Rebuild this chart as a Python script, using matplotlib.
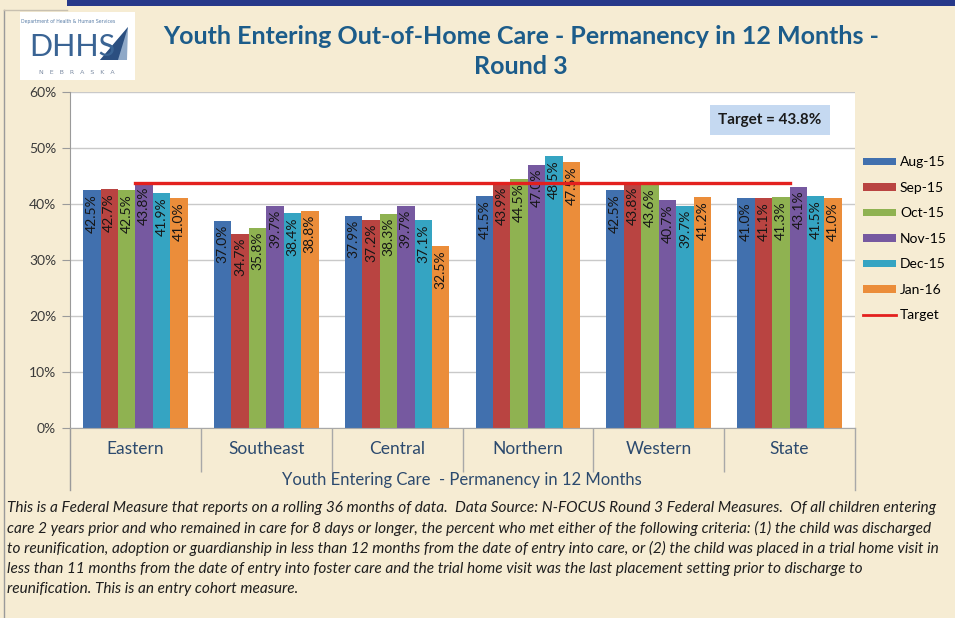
import matplotlib
matplotlib.use("Agg")
import matplotlib.pyplot as plt
from matplotlib.patches import Rectangle, Polygon, Patch
from matplotlib.lines import Line2D
import numpy as np

# data
regions = ["Eastern", "Southeast", "Central", "Northern", "Western", "State"]
months = ["Aug-15", "Sep-15", "Oct-15", "Nov-15", "Dec-15", "Jan-16"]
aug15 = [42.5, 37.0, 37.9, 41.5, 42.5, 41.0]
sep15 = [42.7, 34.7, 37.2, 43.9, 43.8, 41.1]
oct15 = [42.5, 35.8, 38.3, 44.5, 43.6, 41.3]
nov15 = [43.8, 39.7, 39.7, 47.0, 40.7, 43.1]
dec15 = [41.9, 38.4, 37.1, 48.5, 39.7, 41.5]
jan16 = [41.0, 38.8, 32.5, 47.5, 41.2, 41.0]
target = 43.8
yticks = [0, 10, 20, 30, 40, 50, 60]

series = [aug15, sep15, oct15, nov15, dec15, jan16]
colors = ["#4170AE", "#B94441", "#8FB251", "#7659A0", "#35A4C2", "#EB8D3A"]

footer = [
    "This is a Federal Measure that reports on a rolling 36 months of data.  Data Source: N-FOCUS Round 3 Federal Measures.  Of all children entering",
    "care 2 years prior and who remained in care for 8 days or longer, the percent who met either of the following criteria: (1) the child was discharged",
    "to reunification, adoption or guardianship in less than 12 months from the date of entry into care, or (2) the child was placed in a trial home visit in",
    "less than 11 months from the date of entry into foster care and the trial home visit was the last placement setting prior to discharge to",
    "reunification. This is an entry cohort measure.",
]

W, H = 955, 618
BG = "#F6ECD3"
TITLE_C = "#1C5C8A"
LABEL_C = "#2C4A6E"

fig = plt.figure(figsize=(W / 100, H / 100), dpi=100, facecolor=BG)

# overlay for slide decoration, pixel coordinates
deco = fig.add_axes([0, 0, 1, 1], zorder=-1)
deco.set_xlim(0, W)
deco.set_ylim(H, 0)
deco.axis("off")
deco.patch.set_alpha(0)

deco.add_patch(Rectangle((67, 0), W - 67, 6, color="#27398A", lw=0))
deco.plot([4, 4], [10, H], color="#9A9A9A", lw=1)
deco.plot([4, 67], [10, 10], color="#C8C0B0", lw=1)

# DHHS logo
deco.add_patch(Rectangle((20, 12), 115, 68, facecolor="white", edgecolor="none"))
deco.text(68, 21, "Department of Health & Human Services", fontsize=3.3,
          color="#5B7FA8", ha="center", va="center", family="DejaVu Sans")
deco.text(29, 47, "DHHS", fontsize=22, color="#3A6494", ha="left", va="center",
          family="Lato")
deco.add_patch(Polygon([(100, 60), (128, 27), (127, 60)], closed=True,
                       facecolor="#8FA9C8", edgecolor="none"))
deco.add_patch(Polygon([(100, 60), (128, 27), (118, 60)], closed=True,
                       facecolor="#2B4F80", edgecolor="none"))
deco.text(77, 72, "N   E   B   R   A   S   K   A", fontsize=4.5, color="#7D8CA3",
          ha="center", va="center", family="DejaVu Sans")

# title
deco.text(521, 37, "Youth Entering Out-of-Home Care - Permanency in 12 Months -",
          fontsize=18, fontweight="bold", color=TITLE_C, ha="center", va="center",
          family="Lato")
deco.text(521, 67, "Round 3", fontsize=18, fontweight="bold", color=TITLE_C,
          ha="center", va="center", family="Lato")

# footer note
for i, line in enumerate(footer):
    deco.text(7, 508 + i * 20.2, line, fontsize=11.1, style="italic", color="#1E1E1E",
              ha="left", va="center", family="Lato")

# chart
left, right = 70 / W, 855 / W
bottom, top = (H - 428) / H, (H - 92) / H
ax = fig.add_axes([left, bottom, right - left, top - bottom])
ax.set_facecolor("white")

x = np.arange(len(regions))
n = len(series)
bw = 0.8 / n
for i, (vals, c, m) in enumerate(zip(series, colors, months)):
    xs = x - 0.4 + bw * (i + 0.5)
    ax.bar(xs, vals, width=bw, color=c, edgecolor="none", zorder=2, label=m)
    for xi, v in zip(xs, vals):
        ax.annotate(f"{v:.1f}%", (xi, v), xytext=(0, -3), textcoords="offset points",
                    rotation=90, ha="center", va="top", fontsize=10,
                    color="#161616", family="Lato", zorder=3)

ax.plot([x[0], x[-1]], [target, target], color="#E3201E", lw=2.4, zorder=4)

ax.set_xlim(-0.5, len(regions) - 0.5)
ax.set_ylim(0, 60)
ax.set_yticks(yticks)
ax.set_yticklabels([f"{t}%" for t in yticks], fontsize=10, color="#3A3A3A",
                   family="Lato")
ax.yaxis.grid(True, color="#C9C9C9", lw=1)
ax.set_axisbelow(True)
ax.tick_params(axis="y", length=6, color="#9A9A9A", pad=4)

ax.set_xticks(x)
ax.set_xticklabels(regions, fontsize=12.5, color=LABEL_C, family="Lato")
ax.tick_params(axis="x", which="major", length=0, pad=9)
ax.set_xticks(np.arange(0.5, len(regions) - 1, 1), minor=True)
ax.tick_params(axis="x", which="minor", length=32, color="#A8A8A8", width=1)

for s in ["top", "right"]:
    ax.spines[s].set_visible(False)
ax.spines["left"].set_color("#9A9A9A")
ax.spines["bottom"].set_color("#A8A8A8")
ext = -62 / 336
ax.plot([0, 0], [0, ext], transform=ax.transAxes, color="#9A9A9A", lw=1, clip_on=False)
ax.plot([1, 1], [0, ext], transform=ax.transAxes, color="#A8A8A8", lw=1, clip_on=False)

# axis title placed at its slide position
deco.text(462, 480, "Youth Entering Care  - Permanency in 12 Months", fontsize=12,
          color=LABEL_C, family="Lato", ha="center", va="center")

ax.text(770, 120, "Target = 43.8%", transform=deco.transData, fontsize=11,
        fontweight="bold", color="#1A1A1A", ha="center", va="center", family="Lato",
        bbox=dict(boxstyle="square,pad=0.55", facecolor="#C5D9F1", edgecolor="none"))

handles = [Patch(facecolor=c, label=m) for c, m in zip(colors, months)]
handles.append(Line2D([0], [0], color="#E3201E", lw=2, label="Target"))
fig.legend(handles=handles, loc="upper left", bbox_to_anchor=(850 / W, 1 - 144 / H),
           frameon=False, handlelength=2.4, handleheight=0.45,
           handletextpad=0.3, labelspacing=0.97, prop={"family": "Lato", "size": 10})

fig.savefig("out.png", dpi=100, facecolor=BG)
